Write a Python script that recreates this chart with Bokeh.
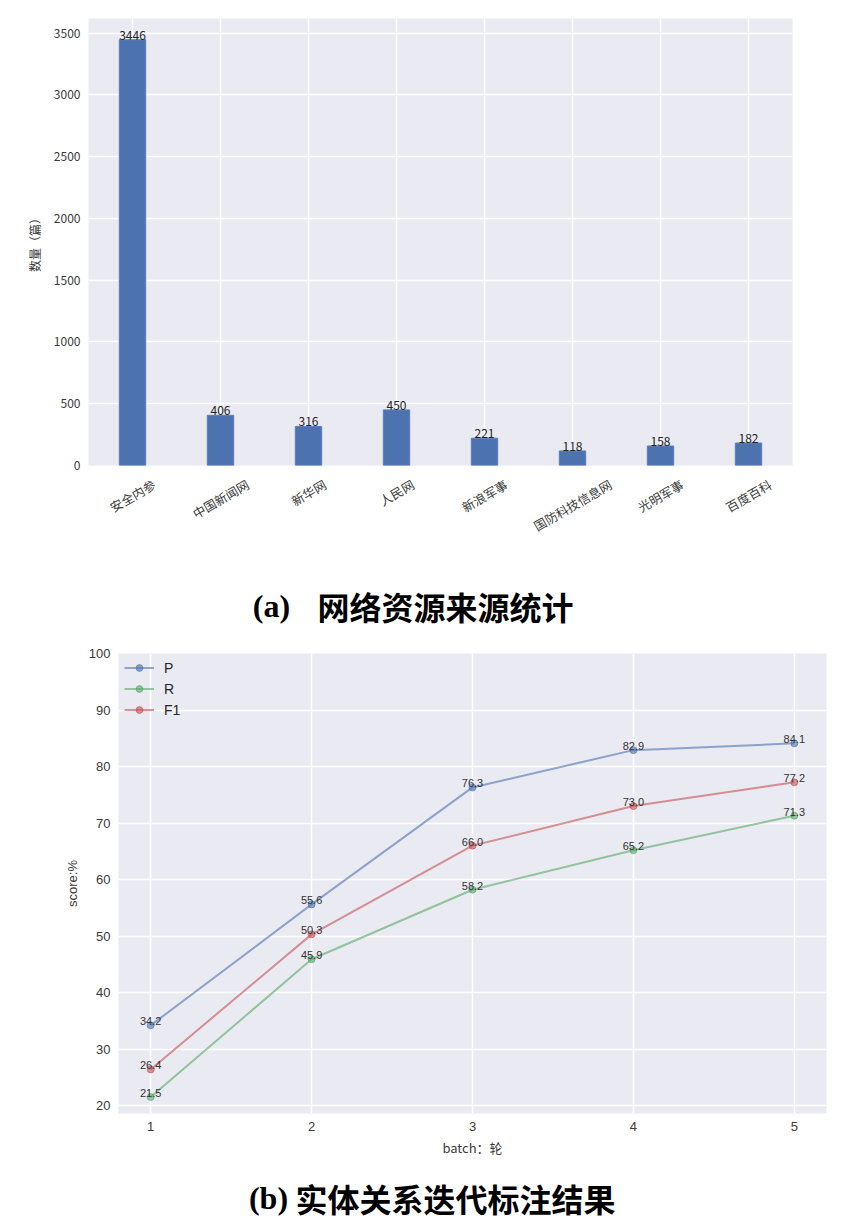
import math
from bokeh.plotting import figure
from bokeh.layouts import column
from bokeh.models import FactorRange, Range1d, FixedTicker, Legend, LegendItem
from bokeh.core.properties import value
from bokeh.embed import file_html
from bokeh.resources import INLINE

# ---------------- data ----------------
sources = ["安全内参", "中国新闻网", "新华网", "人民网", "新浪军事", "国防科技信息网", "光明军事", "百度百科"]
counts = [3446, 406, 316, 450, 221, 118, 158, 182]
count_ticks = [0, 500, 1000, 1500, 2000, 2500, 3000, 3500]

batches = [1, 2, 3, 4, 5]
p_scores = [34.2, 55.6, 76.3, 82.9, 84.1]
r_scores = [21.5, 45.9, 58.2, 65.2, 71.3]
f1_scores = [26.4, 50.3, 66.0, 73.0, 77.2]
score_ticks = [20, 30, 40, 50, 60, 70, 80, 90, 100]

caption_a = ("(a)", "网络资源来源统计")
caption_b = ("(b)", "实体关系迭代标注结果")

# ---------------- style ----------------
W = 857
BG = "#EAEAF2"
TICK_C = "#3a3a3a"
CJK = "Noto Sans CJK SC"
SANS = "Liberation Sans"
BLUE, GREEN, RED = "#4C72B0", "#55A868", "#C44E52"


def no_align(p):
    try:
        p.frame_align = False
    except Exception:
        pass


def darkgrid(p, font, tick_size):
    p.background_fill_color = BG
    p.border_fill_color = "white"
    p.outline_line_color = None
    for g in (p.xgrid, p.ygrid):
        g.grid_line_color = "white"
        g.grid_line_width = 1.5
    for ax in (p.xaxis, p.yaxis):
        ax.axis_line_color = None
        ax.major_tick_line_color = None
        ax.minor_tick_line_color = None
        ax.major_tick_out = 0
        ax.major_tick_in = 0
        ax.major_label_standoff = 8
        ax.major_label_text_font = font
        ax.major_label_text_font_size = tick_size
        ax.major_label_text_color = TICK_C
        ax.axis_label_text_font = font
        ax.axis_label_text_font_style = "normal"
        ax.axis_label_text_color = TICK_C


# ---------------- (a) bar chart ----------------
BL, BR = 88, 65
PAD_B = 8
pa = figure(width=W, height=473,
            x_range=FactorRange(*sources, range_padding=0),
            y_range=Range1d(0, 3618),
            output_backend="svg", toolbar_location=None,
            min_border_left=BL, min_border_right=BR,
            min_border_top=18, min_border_bottom=PAD_B)
no_align(pa)
darkgrid(pa, CJK, "12px")
pa.yaxis.ticker = FixedTicker(ticks=count_ticks)
pa.yaxis.axis_label = "数量（篇）"
pa.yaxis.axis_label_text_font_size = "12px"
pa.yaxis.axis_label_standoff = 8
pa.xaxis.visible = False

pa.vbar(x=sources, top=counts, width=0.3, fill_color=BLUE, line_color="#5a7fbc", line_width=1)
pa.text(x=sources, y=counts, text=[str(c) for c in counts],
        text_align="center", text_baseline="bottom",
        text_font=value(CJK), text_font_size="12px", text_color="#222222")

# rotated category labels (matplotlib-style, centred under each bar)
LH = 75
lab_size = 12.5
lab = figure(width=W, height=LH, x_range=pa.x_range, y_range=Range1d(0, LH),
             x_axis_type=None, y_axis_type=None, output_backend="svg",
             toolbar_location=None, min_border_left=BL, min_border_right=BR,
             min_border_top=0, min_border_bottom=0)
no_align(lab)
lab.outline_line_color = None
lab.xgrid.visible = False
lab.ygrid.visible = False
lab_y = [LH + PAD_B - (12 + (len(s) * lab_size * 0.5 + lab_size * 0.866) / 2) for s in sources]
lab.text(x=sources, y=lab_y, text=sources, angle=math.radians(30),
         text_align="center", text_baseline="middle",
         text_font=value(CJK), text_font_size=f"{lab_size}px", text_color=TICK_C)


# ---------------- captions ----------------
def caption(h, parts, ymid, x_paren, x_text):
    c = figure(width=W, height=h, x_range=Range1d(0, W), y_range=Range1d(0, h),
               x_axis_type=None, y_axis_type=None, output_backend="svg",
               toolbar_location=None, min_border=0)
    no_align(c)
    c.outline_line_color = None
    c.xgrid.visible = False
    c.ygrid.visible = False
    c.text(x=[x_paren], y=[ymid], text=[parts[0]], text_align="center", text_baseline="middle",
           text_font=value("Liberation Serif"), text_font_style="bold", text_font_size="32px",
           text_color="black")
    c.text(x=[x_text], y=[ymid], text=[parts[1]], text_align="left", text_baseline="middle",
           text_font=value(CJK), text_font_style="bold", text_font_size="32px",
           text_color="black")
    return c

cap_a = caption(92, caption_a, 35, 271, 317)

# ---------------- (b) line chart ----------------
pb = figure(width=W, height=523,
            x_range=Range1d(0.8, 5.2), y_range=Range1d(18.6, 100),
            output_backend="svg", toolbar_location=None,
            min_border_left=118, min_border_right=31,
            min_border_top=13, min_border_bottom=50)
no_align(pb)
darkgrid(pb, SANS, "13px")
pb.xaxis.ticker = FixedTicker(ticks=batches)
pb.yaxis.ticker = FixedTicker(ticks=score_ticks)
pb.xaxis.axis_label = "batch：轮"
pb.yaxis.axis_label = "score:%"
pb.xaxis.axis_label_text_font = CJK
pb.xaxis.axis_label_text_font_size = "13px"
pb.yaxis.axis_label_text_font_size = "13px"
pb.xaxis.axis_label_standoff = 4
pb.yaxis.axis_label_standoff = 6

items = []
for name, vals, col in (("P", p_scores, BLUE), ("R", r_scores, GREEN), ("F1", f1_scores, RED)):
    ln = pb.line(batches, vals, line_color=col, line_width=2, line_alpha=0.6)
    sc = pb.scatter(batches, vals, size=7, fill_color=col, line_color=col, fill_alpha=0.6, line_alpha=0.6)
    pb.text(x=batches, y=vals, text=[f"{v:.1f}" for v in vals], text_align="center",
            text_baseline="bottom", text_font=value(SANS), text_font_size="11px",
            text_color="#333333")
    items.append(LegendItem(label=name, renderers=[ln, sc]))

leg = Legend(items=items, location="top_left", margin=6, padding=6,
             glyph_width=30, glyph_height=17, spacing=4, label_standoff=10,
             label_text_font=SANS, label_text_font_size="14px", label_text_color="#262626",
             background_fill_alpha=0, border_line_color=None)
pb.add_layout(leg)

cap_b = caption(59, caption_b, 25, 268, 295)

layout = column(pa, lab, cap_a, pb, cap_b, spacing=0)
open("out.html", "w").write(file_html(layout, INLINE))
